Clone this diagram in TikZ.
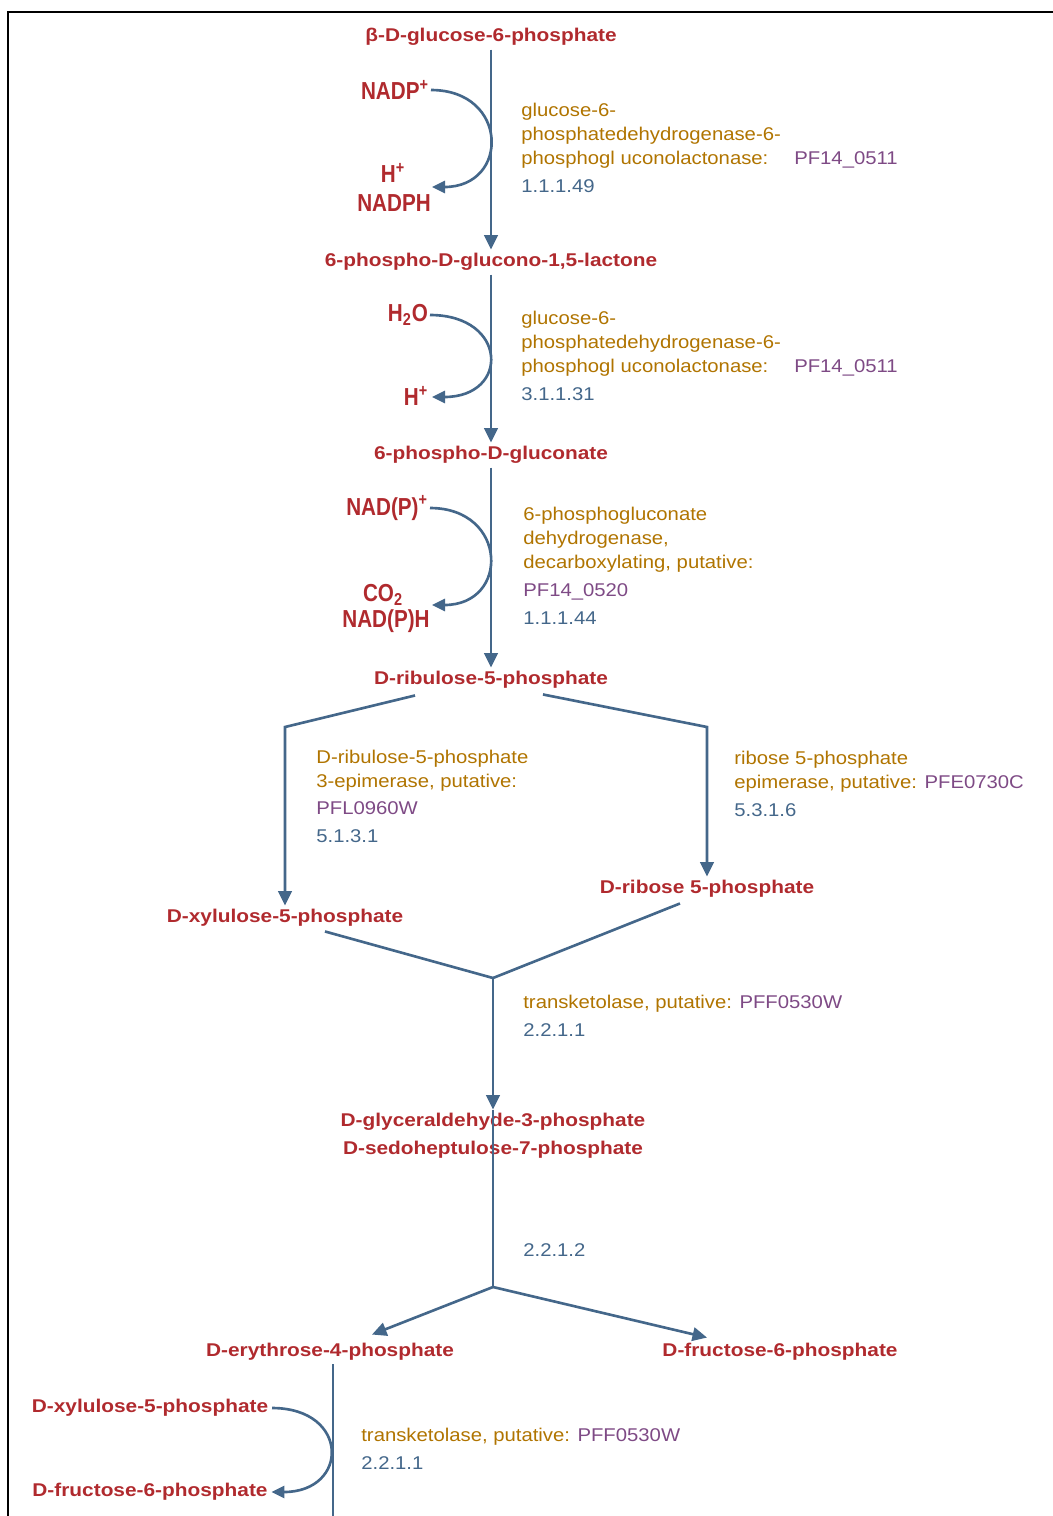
\documentclass[tikz,border=0pt]{standalone}
\usepackage{fontspec}
\setmainfont{Liberation Sans}
\newfontfamily\metfont[FakeStretch=1.13]{Liberation Sans}
\newfontfamily\cofont[FakeStretch=0.84]{Liberation Sans}
\newfontfamily\enzfont[FakeStretch=1.1]{Liberation Sans}
\usetikzlibrary{arrows.meta,calc}
\definecolor{metrojo}{HTML}{B02A2E}
\definecolor{enzoro}{HTML}{B07400}
\definecolor{genmora}{HTML}{7E4A85}
\definecolor{ecazul}{HTML}{44678A}

\begin{document}
\begin{tikzpicture}[x=0.02cm, y=-0.02cm,
    met/.style={font=\metfont\bfseries\fontsize{10.5}{12}\selectfont, text=metrojo, inner sep=2pt},
    cof/.style={font=\cofont\bfseries\fontsize{14}{16}\selectfont, text=metrojo, inner sep=1pt},
    enz/.style={font=\enzfont\fontsize{10.5}{13.6}\selectfont, text=enzoro, align=left, anchor=base west, inner sep=0pt},
    ec/.style={font=\enzfont\fontsize{10.5}{13.6}\selectfont, text=ecazul, anchor=base west, inner sep=0pt},
    via/.style={draw=ecazul, line width=1.5pt},
    rxn/.style={via, -{Triangle[length=2.9mm, width=2.7mm]}},
    cofrxn/.style={via, -{Triangle[length=2.6mm, width=2.4mm]}}]
  \useasboundingbox (0,0) rectangle (1053,1516);
  \draw[black, line width=0.05cm] (1053,12) -- (8,12) -- (8,1516);

  \node[met] (g6p) at (491,37) {β-D-glucose-6-phosphate};
  \node[met] (lac) at (491,262) {6-phospho-D-glucono-1,5-lactone};
  \node[met] (pg) at (491,455) {6-phospho-D-gluconate};
  \node[met] (ru5p) at (491,680) {D-ribulose-5-phosphate};
  \node[met] (xu5p) at (285,918) {D-xylulose-5-phosphate};
  \node[met] (r5p) at (707,889) {D-ribose 5-phosphate};
  \node[met] (gap) at (493,1122) {D-glyceraldehyde-3-phosphate};
  \node[met] (s7p) at (493,1150) {D-sedoheptulose-7-phosphate};
  \node[met] (e4p) at (330,1352) {D-erythrose-4-phosphate};
  \node[met] (f6p) at (780,1352) {D-fructose-6-phosphate};
  \node[met] (xu5pb) at (150,1408) {D-xylulose-5-phosphate};
  \node[met] (f6pb) at (150,1492) {D-fructose-6-phosphate};

  \node[cof, anchor=east] (nadp) at (431,90) {NADP\textsuperscript{+}};
  \node[cof] (hp1) at (393,173) {H\textsuperscript{+}};
  \node[cof] (nadph) at (394,203) {NADPH};
  \node[cof, anchor=east] (h2o) at (430,315) {H\textsubscript{2}O};
  \node[cof] (hp2) at (416,396) {H\textsuperscript{+}};
  \node[cof, anchor=east] (nadpp) at (430,508) {NAD(P)\textsuperscript{+}};
  \node[cof] (co2) at (383,595) {CO\textsubscript{2}};
  \node[cof] (nadpH) at (386,621) {NAD(P)H};

  \node[enz] (e1) at (521,192) {glucose-6-\\phosphatedehydrogenase-6-\\phosphogl uconolactonase:\hspace{1.4em}\textcolor{genmora}{PF14\_0511}\\[2.3pt]\textcolor{ecazul}{1.1.1.49}};
  \node[enz] (e2) at (521,400) {glucose-6-\\phosphatedehydrogenase-6-\\phosphogl uconolactonase:\hspace{1.4em}\textcolor{genmora}{PF14\_0511}\\[2.3pt]\textcolor{ecazul}{3.1.1.31}};
  \node[enz] (e3) at (523,624) {6-phosphogluconate\\dehydrogenase,\\decarboxylating, putative:\\[2.3pt]\textcolor{genmora}{PF14\_0520}\\[2.3pt]\textcolor{ecazul}{1.1.1.44}};
  \node[enz] (e4) at (316,842) {D-ribulose-5-phosphate\\3-epimerase, putative:\\[1.5pt]\textcolor{genmora}{PFL0960W}\\[2.3pt]\textcolor{ecazul}{5.1.3.1}};
  \node[enz] (e5) at (734,816) {ribose 5-phosphate\\epimerase, putative: \textcolor{genmora}{PFE0730C}\\[2.3pt]\textcolor{ecazul}{5.3.1.6}};
  \node[enz] (e6) at (523,1036) {transketolase, putative: \textcolor{genmora}{PFF0530W}\\[2.3pt]\textcolor{ecazul}{2.2.1.1}};
  \node[ec] (e7) at (523,1256) {2.2.1.2};
  \node[enz] (e8) at (361,1469) {transketolase, putative: \textcolor{genmora}{PFF0530W}\\[2.3pt]\textcolor{ecazul}{2.2.1.1}};

  \coordinate (a1) at (432,187);
  \coordinate (a2) at (432,397);
  \coordinate (a3) at (432,605);
  \coordinate (bl) at (285,727);
  \coordinate (br) at (707,727);
  \coordinate (tk) at (493,978);
  \coordinate (tk2) at (493,1287);
  \coordinate (ebot) at (333,1516);

  \draw[rxn] (g6p) -- (lac);
  \draw[rxn] (lac) -- (pg);
  \draw[rxn] (pg) -- (ru5p);
  \draw[cofrxn] (nadp.east) .. controls +(78,0) and +(78,0) .. (a1);
  \draw[cofrxn] (h2o.east) .. controls +(78,0) and +(78,0) .. (a2);
  \draw[cofrxn] (nadpp.east) .. controls +(78,0) and +(78,0) .. (a3);

  \draw[rxn] ($(ru5p.south)+(-76,3)$) -- (bl) -- (bl |- xu5p.north);
  \draw[rxn] ($(ru5p.south)+(52,2)$) -- (br) -- (br |- r5p.north);
  \draw[via] ($(xu5p.south)+(40,1)$) -- (tk);
  \draw[via] ($(r5p.south)+(-27,2)$) -- (tk);
  \draw[rxn] (tk) -- (tk |- gap.north);
  \draw[via] (tk |- gap.north) -- (tk2);
  \draw[rxn] (tk2) -- ($(e4p.north)+(42,-5)$);
  \draw[rxn] (tk2) -- ($(f6p.north)+(-73,-2)$);

  \draw[via] (ebot |- e4p.south) -- (ebot);
  \draw[cofrxn] (xu5pb.east) .. controls +(78,0) and +(78,0) .. (f6pb.east);
\end{tikzpicture}
\end{document}
